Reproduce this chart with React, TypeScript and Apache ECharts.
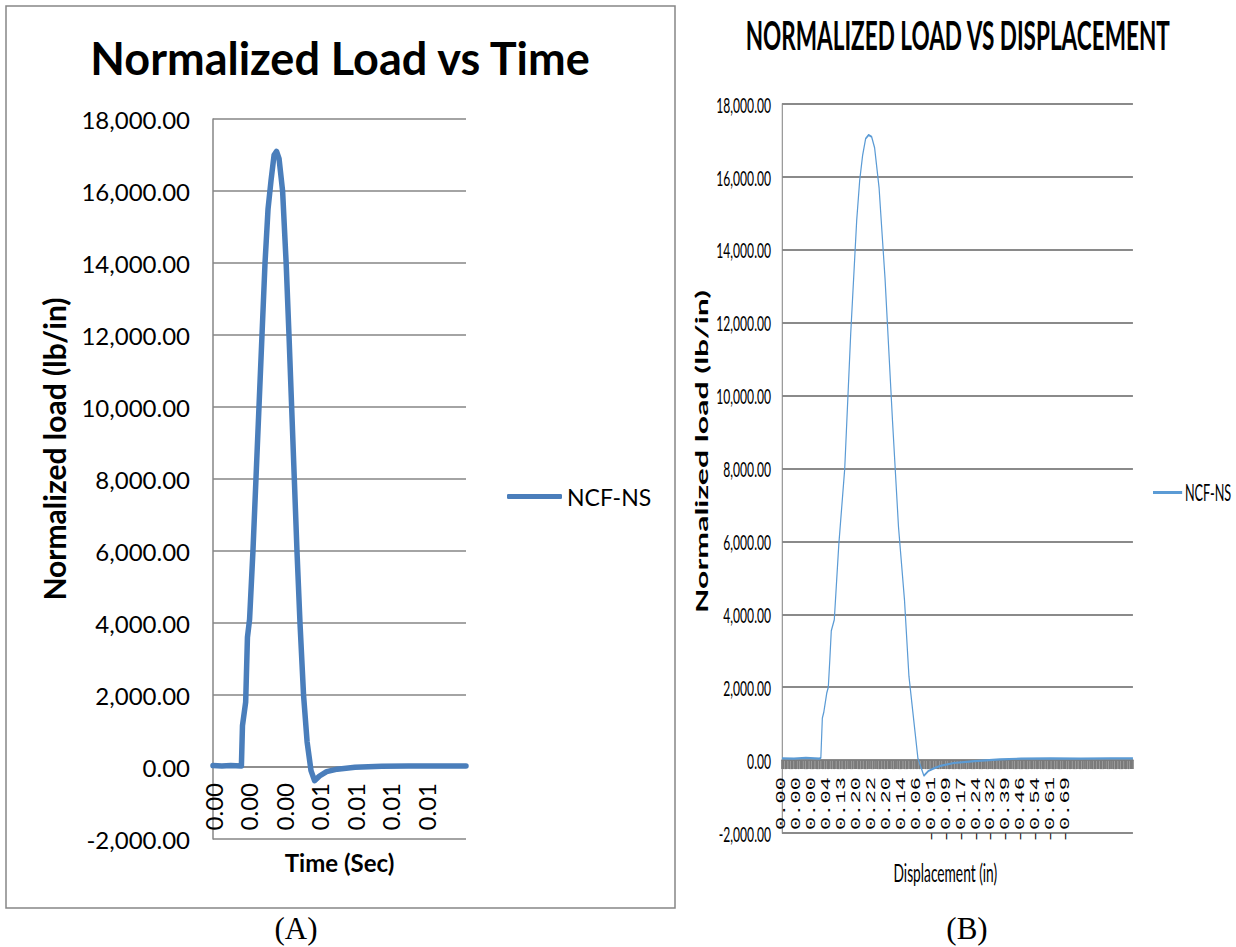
import { useEffect, useRef } from 'react';
import * as echarts from 'echarts';

// ---------- Panel A: normalized load against time ----------
const timeSec = [
  0, 0.0005, 0.001, 0.0016, 0.00166, 0.00184, 0.00194, 0.00206, 0.00225, 0.00242,
  0.00259, 0.00276, 0.00293, 0.0031, 0.00327, 0.00344, 0.00358, 0.00372, 0.00392, 0.00412,
  0.00428, 0.00443, 0.00458, 0.00473, 0.0049, 0.0051, 0.0053, 0.00552, 0.00572, 0.006,
  0.0064, 0.007, 0.008, 0.0095, 0.011, 0.013, 0.01425,
];
const loadA = [
  40, 30, 40, 30, 1150, 1800, 3600, 4100, 6000, 8000,
  10000, 12000, 14000, 15500, 16300, 17000, 17100, 16900, 16000, 14000,
  12000, 10000, 8000, 6000, 4000, 2000, 700, -100, -380, -250,
  -130, -60, -10, 20, 30, 30, 30,
];
const timeTickLabels = ['0.00', '0.00', '0.00', '0.01', '0.01', '0.01', '0.01'];

// ---------- Panel B: normalized load against displacement ----------
// x is the reading number; every tenth reading carries a displacement label
const readingB = [
  0, 8, 16, 25, 26, 27, 28, 30, 31, 32,
  33, 35, 38, 42, 46, 50, 52, 54, 56, 58,
  60, 62, 65, 69, 74, 78, 82, 85, 89, 91,
  95, 98, 102, 106, 115, 129, 146, 160, 180, 200,
  220, 235,
];
const loadB = [
  50, 40, 60, 40, 60, 1150, 1320, 1850, 2000, 2750,
  3550, 3850, 5900, 8000, 11700, 14800, 15900, 16600, 17050, 17150,
  17100, 16800, 15700, 13200, 9300, 6400, 4400, 2300, 800, 50,
  -430, -300, -220, -160, -80, -30, 20, 40, 50, 40,
  50, 50,
];
const dispTickLabels = [
  '0.00', '0.00', '0.00', '0.04', '0.13', '0.20', '0.22', '0.20', '0.14', '0.06',
  '-0.01', '-0.09', '-0.17', '-0.24', '-0.32', '-0.39', '-0.46', '-0.54', '-0.61', '-0.69',
];
const READINGS_PER_LABEL = 10;

const SERIES_NAME = 'NCF-NS';
const LOAD_MIN = -2000;
const LOAD_MAX = 18000;
const LOAD_STEP = 2000;

const fmtLoad = (v: number) =>
  v.toLocaleString('en-US', { minimumFractionDigits: 2, maximumFractionDigits: 2 });

// the category axis sits on the zero line: shift it up from the grid bottom
const zeroOffset = (gridHeight: number) => -gridHeight * (0 - LOAD_MIN) / (LOAD_MAX - LOAD_MIN);

const GRID_GRAY = '#868686';
const A_GRID_H = 720;

const optionA: any = {
  animation: false,
  title: {
    text: 'Normalized Load vs Time',
    left: 340,
    top: 35,
    textAlign: 'center',
    padding: 0,
    textStyle: { fontFamily: 'Lato', fontWeight: 'bold', fontSize: 45, color: '#000' },
  },
  legend: {
    left: 507,
    top: 485,
    padding: 0,
    icon: 'roundRect',
    itemWidth: 55,
    itemHeight: 5,
    data: [SERIES_NAME],
    textStyle: { fontFamily: 'Lato', fontSize: 23, color: '#000' },
  },
  grid: { left: 213, top: 119, width: 253, height: A_GRID_H, outerBoundsMode: 'none' },
  xAxis: {
    type: 'value',
    min: 0,
    max: 0.01425,
    interval: 0.002,
    position: 'bottom',
    offset: zeroOffset(A_GRID_H),
    axisLine: { onZero: false, lineStyle: { color: GRID_GRAY, width: 1.5 } },
    axisTick: { show: false },
    splitLine: { show: false },
    axisLabel: {
      rotate: 90,
      margin: 16,
      fontFamily: 'Lato',
      fontSize: 24,
      color: '#000',
      formatter: (_v: number, i: number) => timeTickLabels[i] ?? '',
    },
    name: 'Time (Sec)',
    nameLocation: 'middle',
    nameGap: 83,
    nameTextStyle: { fontFamily: 'Lato', fontWeight: 'bold', fontSize: 24, color: '#000' },
  },
  yAxis: {
    type: 'value',
    min: LOAD_MIN,
    max: LOAD_MAX,
    interval: LOAD_STEP,
    axisLine: { show: true, lineStyle: { color: GRID_GRAY, width: 1.5 } },
    axisTick: { show: false },
    splitLine: { show: true, lineStyle: { color: GRID_GRAY, width: 1.5 } },
    axisLabel: { margin: 23, fontFamily: 'Lato', fontSize: 24, color: '#000', formatter: fmtLoad },
    name: 'Normalized load (lb/in)',
    nameLocation: 'middle',
    nameGap: 144,
    nameTextStyle: {
      fontFamily: 'Lato',
      fontWeight: 'bold',
      fontSize: 30,
      color: '#000',
      padding: [0, 0, 0, 60],
    },
  },
  series: [
    {
      type: 'line',
      name: SERIES_NAME,
      data: timeSec.map((t, i) => [t, loadA[i]]),
      showSymbol: false,
      symbol: 'none',
      itemStyle: { color: '#4A7EBB' },
      lineStyle: { color: '#4A7EBB', width: 5.5, cap: 'round', join: 'round' },
    },
  ],
  graphic: [
    {
      type: 'rect',
      shape: { x: 6, y: 6, width: 669, height: 902 },
      style: { fill: 'none', stroke: GRID_GRAY, lineWidth: 1.5 },
    },
    {
      type: 'text',
      x: 296,
      y: 928,
      style: {
        text: '(A)',
        fontFamily: '"Liberation Serif"',
        fontSize: 31,
        fill: '#000',
        textAlign: 'center',
        textVerticalAlign: 'middle',
        align: 'center',
        verticalAlign: 'middle',
      },
    },
    {
      type: 'text',
      x: 967,
      y: 928,
      style: {
        text: '(B)',
        fontFamily: '"Liberation Serif"',
        fontSize: 31,
        fill: '#000',
        textAlign: 'center',
        textVerticalAlign: 'middle',
        align: 'center',
        verticalAlign: 'middle',
      },
    },
  ],
};

// Panel B is drawn wide and squeezed horizontally by CSS
const B_SQUEEZE = 0.55;
const B_LINE = '#5B9BD5';
const B_GRAY = '#8a8a8a';
const B_GRID_H = 729;

const optionB: any = {
  animation: false,
  title: {
    text: 'NORMALIZED LOAD VS DISPLACEMENT',
    left: 505,
    top: 13,
    textAlign: 'center',
    padding: 0,
    textStyle: { fontFamily: 'Lato', fontWeight: 'bold', fontSize: 41, color: '#000' },
  },
  legend: {
    left: 860,
    top: 481,
    padding: 0,
    icon: 'rect',
    itemWidth: 53,
    itemHeight: 3,
    data: [SERIES_NAME],
    textStyle: { fontFamily: 'Lato', fontSize: 23, color: '#000' },
  },
  grid: { left: 185.5, top: 104, width: 638, height: B_GRID_H, outerBoundsMode: 'none' },
  xAxis: {
    type: 'value',
    min: 0,
    max: 235,
    interval: 1,
    position: 'bottom',
    offset: zeroOffset(B_GRID_H),
    axisLine: { onZero: false, lineStyle: { color: B_GRAY, width: 2 } },
    axisTick: { show: true, length: 9, lineStyle: { color: '#7a7a7a', width: 3 } },
    splitLine: { show: false },
    axisLabel: {
      rotate: 90,
      margin: 17,
      fontFamily: '"Liberation Mono"',
      fontSize: 22,
      color: '#000',
      formatter: (v: number) =>
        v % READINGS_PER_LABEL === 0 ? dispTickLabels[v / READINGS_PER_LABEL] ?? '' : '',
    },
    name: 'Displacement (in)',
    nameLocation: 'middle',
    nameGap: 99,
    nameTextStyle: { fontFamily: 'Lato', fontSize: 25, color: '#000', padding: [0, 44, 0, 0] },
  },
  yAxis: {
    type: 'value',
    min: LOAD_MIN,
    max: LOAD_MAX,
    interval: LOAD_STEP,
    axisLine: { show: true, lineStyle: { color: B_GRAY, width: 2 } },
    axisTick: { show: false },
    splitLine: { show: true, lineStyle: { color: B_GRAY, width: 2 } },
    axisLabel: { margin: 20, fontFamily: 'Lato', fontSize: 22, color: '#000', formatter: fmtLoad },
    name: 'Normalized load (lb/in)',
    nameLocation: 'middle',
    nameGap: 127,
    nameTextStyle: {
      fontFamily: 'Lato',
      fontWeight: 'bold',
      fontSize: 32,
      color: '#000',
      padding: [0, 0, 0, 34],
    },
  },
  series: [
    {
      type: 'line',
      name: SERIES_NAME,
      data: readingB.map((r, i) => [r, loadB[i]]),
      showSymbol: false,
      symbol: 'none',
      itemStyle: { color: B_LINE },
      lineStyle: { color: B_LINE, width: 2.2 },
    },
  ],
};

export default function App() {
  const refA = useRef<HTMLDivElement>(null);
  const refB = useRef<HTMLDivElement>(null);

  useEffect(() => {
    const chartA = echarts.init(refA.current!, undefined, { renderer: 'svg' });
    chartA.setOption(optionA);
    const chartB = echarts.init(refB.current!, undefined, { renderer: 'svg' });
    chartB.setOption(optionB);
    return () => {
      chartA.dispose();
      chartB.dispose();
    };
  }, []);

  return (
    <div
      style={{
        position: 'absolute',
        left: 0,
        top: 0,
        width: 1236,
        height: 947,
        overflow: 'hidden',
        background: '#fff',
      }}
    >
      <div ref={refA} style={{ position: 'absolute', left: 0, top: 0, width: 1236, height: 947 }} />
      <div
        ref={refB}
        style={{
          position: 'absolute',
          left: 680,
          top: 0,
          width: 1011,
          height: 947,
          transform: `scaleX(${B_SQUEEZE})`,
          transformOrigin: '0 0',
        }}
      />
    </div>
  );
}
